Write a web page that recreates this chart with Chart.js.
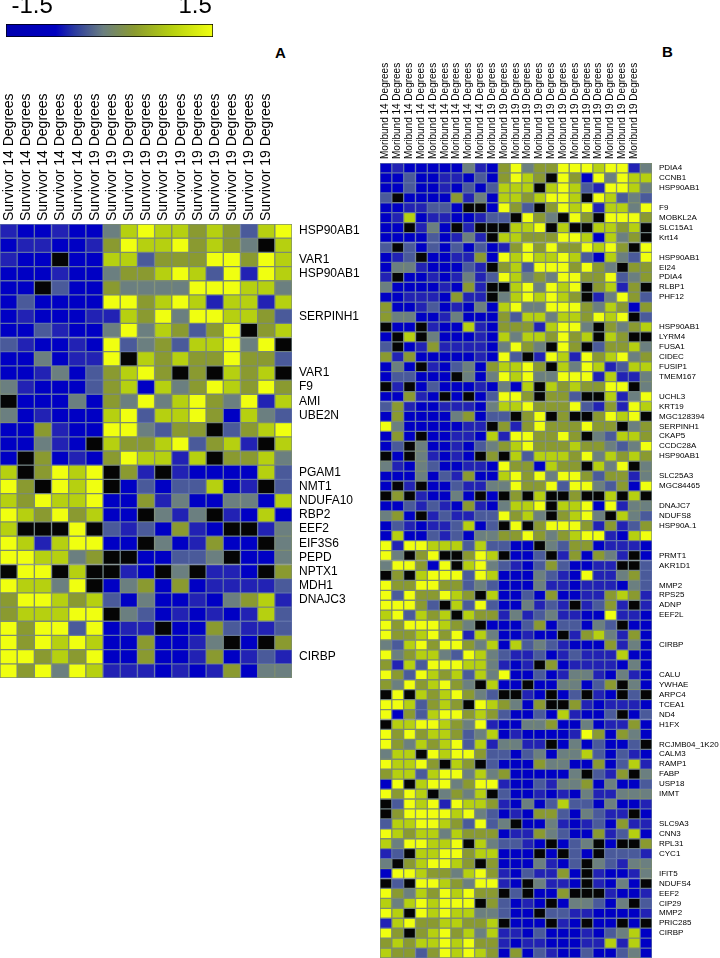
<!DOCTYPE html>
<html><head><meta charset="utf-8">
<script src="https://cdn.jsdelivr.net/npm/chart.js@4"></script>
<style>
html,body{margin:0;padding:0;background:#fff;width:720px;height:958px;overflow:hidden}
canvas{position:absolute;display:block}
.panel{position:absolute;font:bold 15px "Liberation Sans",Arial,sans-serif;color:#000;line-height:15px}
</style></head><body>
<canvas id="scale" style="left:0;top:0" width="230" height="40"></canvas>
<canvas id="chartA" style="left:0;top:80px" width="375" height="598"></canvas>
<canvas id="chartB" style="left:380px;top:60px" width="340" height="898"></canvas>
<div class="panel" style="left:275px;top:45px">A</div>
<div class="panel" style="left:662px;top:44px">B</div>
<script>
const N = null; // black cell: no value
// cell values, in units of 0.5 (-3 = -1.5, 3 = 1.5)
const columnsA = [...Array(6).fill('Survivor 14 Degrees'), ...Array(11).fill('Survivor 19 Degrees')];
const columnsB = [...Array(10).fill('Moribund 14 Degrees'), ...Array(13).fill('Moribund 19 Degrees')];
const genesA = ['HSP90AB1','','VAR1','HSP90AB1','','','SERPINH1','','','','VAR1','F9','AMI','UBE2N','','','','PGAM1','NMT1','NDUFA10','RBP2','EEF2','EIF3S6','PEPD','NPTX1','MDH1','DNAJC3','','','','CIRBP',''];
const genesB = ['PDIA4','CCNB1','HSP90AB1','','F9','MOBKL2A','SLC15A1','Krt14','','HSP90AB1','EI24','PDIA4','RLBP1','PHF12','','','HSP90AB1','LYRM4','FUSA1','CIDEC','FUSIP1','TMEM167','','UCHL3','KRT19','MGC128394','SERPINH1','CKAP5','CCDC28A','HSP90AB1','','SLC25A3','MGC84465','','DNAJC7','NDUFS8','HSP90A.1','','','PRMT1','AKR1D1','','MMP2','RPS25','ADNP','EEF2L','','','CIRBP','','','CALU','YWHAE','ARPC4','TCEA1','ND4','H1FX','','RCJMB04_1K20','CALM3','RAMP1','FABP','USP18','IMMT','','','SLC9A3','CNN3','RPL31','CYC1','','IFIT5','NDUFS4','EEF2','CIP29','MMP2','PRIC285','CIRBP','',''];
const valuesA = [
[-2,-3,-3,-2,-3,-3,0,2,3,2,2,1,2,1,-1,2,3],
[-3,-2,-2,-3,-3,-2,1,3,2,2,3,1,2,1,0,N,2],
[-2,-3,-3,N,-3,-3,2,2,-1,1,1,1,3,3,1,3,2],
[-3,-3,-3,-2,-3,-3,0,1,1,2,3,2,-1,3,-2,3,2],
[-3,-3,N,-1,-3,-3,1,0,0,0,0,3,3,3,2,2,0],
[-3,-1,-3,-3,-3,-3,3,3,1,2,3,2,-2,2,2,-2,2],
[-3,-2,-3,-3,-3,-2,-2,2,1,3,0,3,3,2,2,1,-1],
[-3,-3,-1,-2,-3,-3,0,3,0,2,1,-1,1,3,N,1,2],
[-1,-2,-3,-3,-2,-3,3,-1,0,1,-1,2,2,3,0,3,N],
[-3,-3,0,-3,-2,-2,3,N,2,1,2,1,1,3,1,1,-1],
[-3,-3,-2,0,-3,-1,1,2,3,1,N,1,N,2,1,2,N],
[0,-2,-3,-3,-3,-1,1,2,-3,2,0,1,3,2,1,3,1],
[N,-3,-3,-3,0,-3,1,0,3,0,2,3,1,0,3,-2,2],
[0,-3,-2,-3,-3,-3,2,3,-1,2,2,3,1,-3,2,0,-1],
[-3,-3,1,-2,-3,-3,3,3,0,-1,1,1,N,-1,1,2,3],
[-3,-3,0,-2,-3,N,2,1,1,2,3,-1,1,2,-2,N,2],
[-3,N,1,-3,-2,-3,1,3,2,2,-2,2,N,1,1,2,0],
[2,N,1,3,2,3,N,1,-2,N,-2,-3,-3,-3,-3,2,-1],
[3,1,N,3,2,3,N,-3,-1,-3,-1,-1,2,-3,-2,N,-1],
[2,1,3,2,2,3,-3,-3,1,-2,0,-3,-3,0,0,-3,2],
[3,2,1,3,1,2,-3,-3,N,0,-2,0,N,-2,-3,2,-3],
[2,N,N,N,3,N,-1,-2,-1,-3,1,-2,-3,N,N,-2,0],
[3,2,-2,2,3,3,-3,-3,N,0,-3,-2,1,-3,-3,N,0],
[3,3,2,2,0,1,N,N,-3,-3,-1,-1,0,N,-3,-3,0],
[N,3,3,N,2,N,N,-2,-3,N,0,N,-2,-2,-3,N,1],
[3,2,2,0,3,N,-3,0,1,-3,1,-3,-2,-2,-2,-2,-1],
[1,3,3,2,1,2,-1,-3,0,-3,-3,-2,-3,0,1,2,-2],
[1,2,2,2,3,3,N,0,-1,-3,-2,-3,-2,-3,-2,2,-1],
[3,1,3,3,-1,3,-3,-2,-2,N,-3,-3,1,-1,-2,-2,-1],
[3,1,3,2,3,2,-3,-3,1,-3,-3,-2,0,N,-3,N,1],
[3,3,1,2,1,3,-3,-3,1,-3,-3,-2,1,-3,-2,-1,-2],
[3,1,3,0,3,2,-2,-2,-2,-3,-2,-3,-2,1,-3,0,0]];
const valuesB = [
[-3,-2,-3,-3,-3,-3,-3,0,-2,-3,1,3,0,1,1,3,3,3,2,3,3,-2,0],
[-3,-3,-1,-3,-3,-2,-2,-3,-1,-3,1,3,2,1,N,3,1,-3,3,0,3,2,2],
[-3,-3,-1,-3,-3,-2,-3,-1,-3,-1,2,2,2,N,2,3,2,-1,-2,3,3,2,0],
[-1,N,-3,-3,-3,-3,1,-2,0,-3,2,2,1,2,3,3,2,N,3,2,-1,0,-1],
[-3,-3,-2,-2,-1,-1,-3,N,N,-3,3,1,-1,N,1,3,2,3,-2,2,2,0,3],
[-3,-2,2,-3,-2,-2,-3,-3,-2,-1,-1,N,3,1,0,N,3,1,N,3,3,3,1],
[-3,-3,N,-2,0,-3,N,-2,N,N,N,2,2,3,N,2,N,N,2,2,1,2,N],
[-3,-3,-3,-3,-1,-3,-2,0,-2,N,2,2,1,1,1,3,3,2,-3,2,0,1,N],
[-1,N,-1,-3,-1,-3,-1,-3,-1,-3,-2,1,3,1,3,1,1,3,2,3,1,N,3],
[-3,-2,-1,N,-3,-3,-2,-2,1,-3,3,2,3,2,2,3,2,-1,-3,2,0,-1,3],
[-3,0,0,-2,-3,-3,-3,-1,-2,N,1,2,-1,3,3,3,1,3,1,0,N,1,1],
[-2,N,-3,-3,-2,-3,-2,0,-2,-1,3,2,0,1,0,3,3,1,1,3,-1,0,1],
[0,-3,-3,-3,-3,-2,-3,1,-2,N,N,2,3,0,3,2,3,N,1,2,-2,1,N],
[-3,-3,-2,-2,-2,-3,1,-2,-2,N,0,2,3,2,3,2,1,N,-2,0,3,1,-1],
[1,-3,-3,-2,-1,-3,-2,-3,0,-3,2,3,0,0,3,3,3,1,0,2,1,-3,1],
[1,0,0,-3,-3,-2,0,-3,-3,-3,1,-1,2,2,0,2,2,1,3,2,3,N,-1],
[N,-3,-3,N,-2,-3,-3,2,-2,-3,1,1,1,-2,2,3,3,0,N,1,0,1,2],
[-3,N,2,N,0,-3,-3,-3,-2,-3,2,0,2,2,1,3,1,2,N,2,1,N,N],
[-1,N,-3,-2,1,-2,-2,-2,-2,-3,0,3,1,0,N,3,1,N,-1,1,1,2,0],
[1,-2,1,-3,-3,-3,-3,-3,-2,-3,3,-1,N,-2,3,2,-2,3,1,2,3,0,1],
[-3,0,-3,N,-2,-3,-1,0,-3,1,2,2,3,1,N,2,0,3,2,-2,-1,2,2],
[-3,-1,-1,-3,-3,-3,N,0,-3,0,3,2,3,0,0,3,3,3,-2,2,-2,-2,0],
[N,-2,N,-3,-1,-3,-3,-3,-2,-3,0,-3,2,N,2,1,2,1,1,3,3,N,0],
[-3,-3,1,-2,-3,N,-3,N,-3,-1,3,3,1,N,1,1,-1,N,N,2,-2,0,3],
[-1,1,-2,-3,-3,-2,-2,-2,-3,0,2,2,3,1,1,1,3,-1,-2,1,-2,3,2],
[-3,1,-3,-3,-3,-3,0,1,-3,-1,-1,N,1,3,N,1,N,N,1,3,2,3,N],
[3,0,-3,-3,-3,-3,-3,-2,-2,N,1,-2,1,3,1,1,1,3,1,1,N,0,1],
[-3,1,-3,N,-3,-3,-2,-2,-3,2,-2,3,3,1,1,3,1,N,0,-1,2,2,1],
[-3,-1,N,0,-3,-3,-2,-3,-1,0,1,2,3,1,1,1,2,1,1,0,-1,0,3],
[N,-3,N,0,-2,-3,-2,-3,N,1,N,2,-1,2,2,2,1,3,0,2,1,2,1],
[0,-2,-3,0,-1,-3,-3,-2,-2,-3,3,1,1,-3,2,1,1,N,2,0,3,N,0],
[-3,-3,-3,0,-3,-1,-2,1,-3,-3,2,3,1,3,0,3,3,1,-1,1,1,-2,0],
[-3,N,-2,N,-3,-3,-1,-2,-2,0,0,3,1,1,3,-1,3,3,0,-1,1,-3,3],
[N,1,N,-2,-3,-3,0,-3,N,-3,N,1,N,2,N,N,1,N,N,2,N,2,N],
[-3,-3,-1,-2,-1,-2,-3,1,-2,-3,0,2,2,3,N,2,2,3,-3,3,-2,0,0],
[0,1,-3,N,-2,-1,-2,-2,-1,-1,3,1,2,0,N,1,2,3,0,N,2,0,-1],
[-3,-1,-2,-3,-2,-2,-1,2,-3,-1,N,3,N,1,3,3,3,1,-2,1,-2,-1,1],
[-3,2,-3,-3,-1,-2,-1,-3,0,0,1,1,3,1,0,1,2,3,3,-2,-3,2,3],
[3,-2,3,3,2,2,2,-1,2,-1,-1,-3,-3,N,0,-1,1,1,-3,-2,-2,-2,-3],
[3,0,N,1,3,N,N,1,3,2,N,-3,-3,-1,N,-2,1,-3,1,0,-2,N,-3],
[0,3,3,1,-3,3,N,2,3,0,-1,-2,-3,-1,1,-1,-3,-3,-2,-2,N,N,-1],
[N,1,N,2,3,3,3,-1,3,2,-3,-3,-3,0,-1,-2,-3,3,-2,-2,0,1,-1],
[3,1,1,3,3,1,1,-1,0,-1,-3,-3,-3,0,-2,-2,-3,-2,-2,-2,-3,0,-1],
[3,-1,3,1,1,3,2,1,N,2,-3,-3,-1,-3,1,-3,-3,-2,-2,1,2,1,-2],
[3,3,3,1,-1,N,2,-1,3,-1,-3,-3,0,-2,-1,-2,N,-2,-1,1,-2,N,-2],
[2,3,-1,2,1,2,N,2,1,1,-2,0,-2,-1,0,-2,-2,-3,-3,3,-2,-2,-3],
[3,1,3,3,3,2,1,0,N,-3,-3,-3,-1,1,-3,-1,-1,-3,0,-1,N,-3,-3],
[3,1,1,2,3,1,3,-2,2,0,-3,-3,-2,-3,-3,N,-2,1,2,0,-2,1,-3],
[0,-1,2,3,1,3,3,1,0,2,-3,2,-1,0,-1,-2,-3,-3,-3,1,-2,0,-3],
[3,0,1,2,2,0,-1,3,2,0,-1,-2,-2,-1,-3,-2,-1,-2,-2,-2,2,-3,-3],
[1,-2,2,-1,3,3,3,2,2,0,-2,-3,-2,N,1,-3,-2,-2,-2,-2,-3,0,-3],
[3,1,-1,3,2,1,2,-1,2,0,3,-3,-3,-1,-3,-2,0,0,-2,-3,0,-2,-3],
[1,0,3,1,2,3,1,0,N,2,-3,-3,N,-3,-3,0,0,-3,-1,1,N,0,-3],
[N,3,N,2,1,2,3,1,0,-1,N,N,-2,-3,N,-3,-1,N,-2,-3,N,-1,N],
[3,3,2,-1,1,2,1,N,3,2,1,0,-3,1,N,N,1,-2,-3,-2,-2,-2,-3],
[3,-3,1,-1,2,3,3,1,2,1,-1,-3,-3,-1,-3,2,-2,-3,-3,-1,N,-3,-1],
[N,2,2,3,3,2,1,0,3,-2,-3,-3,0,0,1,-3,-3,0,-3,-2,-2,1,-3],
[3,1,3,1,2,2,1,-1,0,2,-3,-2,-3,-3,-3,-3,-2,3,1,-3,1,0,-3],
[3,1,0,2,1,2,3,-1,2,-2,0,0,-2,-2,N,-3,0,-3,-1,-3,-3,-1,N],
[0,2,2,N,3,2,3,3,1,-1,-1,-3,-1,0,-3,0,0,2,-1,-3,-1,-2,-3],
[3,2,2,3,1,N,2,1,N,-1,-3,-3,-3,1,0,0,-3,-3,1,-3,-1,2,-2],
[1,2,2,-1,2,3,3,0,2,0,1,-3,-3,-3,-3,-3,0,N,-1,-2,1,N,0],
[-3,3,N,2,3,3,0,1,3,3,-2,-3,-3,-1,-2,0,0,1,-3,0,-3,-3,-1],
[3,1,3,2,N,0,1,0,2,N,-1,-3,-3,-2,-3,-2,-3,0,-2,-2,0,0,0],
[N,-1,3,2,3,-2,3,2,2,1,-2,-3,0,-3,-1,2,-1,-1,-3,0,-3,-3,-2],
[N,1,3,3,3,3,2,3,0,-1,-3,-2,-3,1,1,-1,-3,0,-1,-2,-2,N,-3],
[-1,2,2,3,3,2,1,-1,3,-1,0,N,-3,-3,0,-2,-3,-2,-1,-3,1,-2,-2],
[3,2,1,2,2,0,2,1,1,1,-3,-2,-2,1,0,-1,-3,-3,1,-2,-1,2,-3],
[2,0,3,3,2,2,3,N,2,0,-1,-1,-2,-3,N,-3,-1,0,N,-3,N,N,1],
[-2,-1,N,2,2,3,3,1,2,2,-3,-3,-3,N,-3,N,-1,-3,N,-1,-1,-1,-2],
[0,N,1,2,3,3,2,1,N,1,-3,-3,-3,0,-2,-3,-1,N,0,-1,-2,0,0],
[-3,3,3,2,1,1,0,2,3,1,-2,-3,-1,-2,-2,1,-3,N,-2,-3,-3,-2,0],
[N,-1,N,3,3,2,1,0,3,3,-2,-3,N,0,-2,-2,-3,N,-2,-3,0,-3,N],
[3,1,0,2,1,3,2,3,1,1,N,-1,N,-3,-3,1,N,N,N,-2,-3,-3,-2],
[2,0,2,3,2,3,3,3,N,1,-1,-3,-2,-3,N,-3,0,0,-1,-3,0,N,-1],
[3,2,N,3,2,3,2,2,0,0,-1,-3,-3,N,-1,-1,-2,-2,-3,-3,-3,-3,-2],
[-2,2,3,1,1,2,2,1,1,2,N,-3,-3,-3,N,-2,-3,N,-3,-3,N,-3,N],
[3,1,N,1,2,3,1,2,0,2,-2,-2,-3,-1,-3,-3,-3,-2,-3,-1,0,2,-3],
[1,2,1,2,2,3,2,3,1,1,-2,-3,-2,-2,-3,-3,-3,-2,-2,2,-2,2,-3],
[2,1,1,-1,1,3,2,3,2,1,-3,1,-3,-1,-2,-3,-3,-1,-3,-3,-1,0,-3]];
const scaleTicks = [-1.5, 1.5];

const palette = {'-3':'#0000c4','-2':'#2222b4','-1':'#4a5a9a','0':'#6b7f80','1':'#8a9a30','2':'#b6d010','3':'#f0ff10'};
const fill = v => v === null ? '#050505' : palette[v];
const edge = v => v === null ? '#6f8080' : v < 0 ? '#5f70a8' : '#7c8c70';
const common = {responsive:false, devicePixelRatio:1, animation:false,
  plugins:{legend:{display:false}, tooltip:{enabled:false}, title:{display:false}}};
const FF = '"Liberation Sans",Arial,sans-serif';
const noPad = s => {s.paddingLeft=s.paddingRight=s.paddingTop=s.paddingBottom=0};

function heat(id, rows, cols, genes, colPx, genePx, axisH, axisW, colGap){
  new Chart(document.getElementById(id), {
    type:'bar',
    data:{labels:cols, datasets:rows.map((row,i)=>({
      data:row.map(()=>[i,i+1]),
      backgroundColor:row.map(fill), borderColor:row.map(edge), borderWidth:1,
      borderSkipped:false, yAxisID:'cells', grouped:false,
      barPercentage:1, categoryPercentage:1}))},
    options:{...common,
      scales:{
        x:{type:'category', position:'top', offset:true, grid:{display:false,drawTicks:false}, border:{display:false},
           ticks:{autoSkip:false, minRotation:90, maxRotation:90, padding:colGap, color:'#000', font:{family:FF,size:colPx}},
           afterFit(s){s.height=axisH; noPad(s)}},
        cells:{type:'linear', display:false, min:0, max:rows.length, reverse:true},
        y:{type:'category', labels:genes, position:'right', offset:true, grid:{display:false,drawTicks:false}, border:{display:false},
           ticks:{autoSkip:false, padding:7, color:'#000', font:{family:FF,size:genePx}},
           afterFit(s){s.width=axisW; noPad(s)}}
      }}
  });
}
heat('chartA', valuesA, columnsA, genesA, 14, 12, 144, 83, 3);
heat('chartB', valuesB, columnsB, genesB, 10, 8, 103, 68, 4);

const lo = -1.98, hi = 1.83;
new Chart(document.getElementById('scale'), {
  type:'bar',
  data:{labels:[''], datasets:[{data:[[lo,hi]], borderColor:'#000', borderWidth:1, borderSkipped:false,
    barPercentage:1, categoryPercentage:1,
    backgroundColor(c){
      const a=c.chart.chartArea; if(!a) return '#000';
      const g=c.chart.ctx.createLinearGradient(a.left,0,a.right,0);
      g.addColorStop(0,'#0000b0'); g.addColorStop(.24,'#0000c0'); g.addColorStop(.33,'#2a3aa0');
      g.addColorStop(.47,'#6b7f80'); g.addColorStop(.62,'#8a9a30'); g.addColorStop(.8,'#b6d010'); g.addColorStop(1,'#f0ff10');
      return g;
    }}]},
  options:{...common, indexAxis:'y', layout:{padding:{left:6,right:17,bottom:3}},
    scales:{
      x:{type:'linear', position:'top', min:lo, max:hi, grid:{display:false,drawTicks:false}, border:{display:false},
         afterBuildTicks(s){s.ticks=scaleTicks.map(value=>({value}))},
         ticks:{autoSkip:false, maxRotation:0, padding:3, color:'#000', font:{family:FF,size:24},
                callback:v=>v.toFixed(1)},
         afterFit(s){s.height=24; noPad(s)}},
      y:{display:false}
    }}
});
</script></body></html>
